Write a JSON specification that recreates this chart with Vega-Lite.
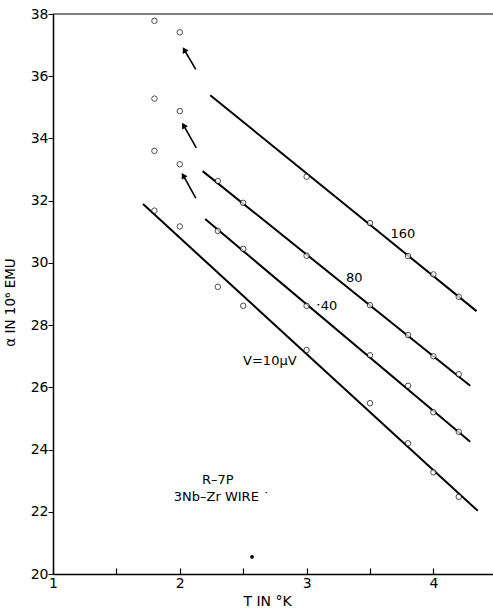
{
  "$schema": "https://vega.github.io/schema/vega-lite/v6.json",
  "width": 440,
  "height": 560,
  "autosize": "none",
  "padding": {"left": 53, "top": 14, "right": 0, "bottom": 37},
  "background": "white",
  "config": {
    "view": {"stroke": null},
    "font": "DejaVu Sans"
  },
  "datasets": {
    "points": [
      {"T": 1.8, "a": 37.78, "V": "160"},
      {"T": 2.0, "a": 37.41, "V": "160"},
      {"T": 3.0, "a": 32.77, "V": "160"},
      {"T": 3.5, "a": 31.28, "V": "160"},
      {"T": 3.8, "a": 30.22, "V": "160"},
      {"T": 4.0, "a": 29.63, "V": "160"},
      {"T": 4.2, "a": 28.91, "V": "160"},
      {"T": 1.8, "a": 35.28, "V": "80"},
      {"T": 2.0, "a": 34.88, "V": "80"},
      {"T": 2.3, "a": 32.63, "V": "80"},
      {"T": 2.5, "a": 31.93, "V": "80"},
      {"T": 3.0, "a": 30.23, "V": "80"},
      {"T": 3.5, "a": 28.64, "V": "80"},
      {"T": 3.8, "a": 27.68, "V": "80"},
      {"T": 4.0, "a": 27.0, "V": "80"},
      {"T": 4.2, "a": 26.42, "V": "80"},
      {"T": 1.8, "a": 33.6, "V": "40"},
      {"T": 2.0, "a": 33.17, "V": "40"},
      {"T": 2.3, "a": 31.03, "V": "40"},
      {"T": 2.5, "a": 30.45, "V": "40"},
      {"T": 3.0, "a": 28.62, "V": "40"},
      {"T": 3.5, "a": 27.03, "V": "40"},
      {"T": 3.8, "a": 26.05, "V": "40"},
      {"T": 4.0, "a": 25.2, "V": "40"},
      {"T": 4.2, "a": 24.57, "V": "40"},
      {"T": 1.8, "a": 31.68, "V": "10"},
      {"T": 2.0, "a": 31.17, "V": "10"},
      {"T": 2.3, "a": 29.23, "V": "10"},
      {"T": 2.5, "a": 28.62, "V": "10"},
      {"T": 3.0, "a": 27.2, "V": "10"},
      {"T": 3.5, "a": 25.49, "V": "10"},
      {"T": 3.8, "a": 24.2, "V": "10"},
      {"T": 4.0, "a": 23.27, "V": "10"},
      {"T": 4.2, "a": 22.48, "V": "10"}
    ],
    "lines": [
      {"T": 2.24, "a": 35.39, "V": "160"},
      {"T": 4.34, "a": 28.45, "V": "160"},
      {"T": 2.18, "a": 32.95, "V": "80"},
      {"T": 4.29, "a": 26.05, "V": "80"},
      {"T": 2.2, "a": 31.41, "V": "40"},
      {"T": 4.29, "a": 24.25, "V": "40"},
      {"T": 1.71, "a": 31.89, "V": "10"},
      {"T": 4.35, "a": 22.03, "V": "10"}
    ],
    "arrows": [
      {"T1": 2.126, "a1": 36.22, "T2": 2.035, "a2": 36.85},
      {"T1": 2.13, "a1": 33.7, "T2": 2.03, "a2": 34.42},
      {"T1": 2.126, "a1": 32.08, "T2": 2.027, "a2": 32.81}
    ],
    "labels": [
      {"T": 3.76, "a": 30.92, "text": "160"},
      {"T": 3.376, "a": 29.5, "text": "80"},
      {"T": 3.16, "a": 28.6, "text": "\u02d140"},
      {"T": 2.71, "a": 26.85, "text": "V=10\u03bcV"},
      {"T": 2.3, "a": 23.02, "text": "R\u20137P"},
      {"T": 2.33, "a": 22.47, "text": "3Nb\u2013Zr WIRE \u02d9"}
    ],
    "dot": [{"T": 2.57, "a": 20.55}]
  },
  "layer": [
    {
      "data": {"values": [{"a": 38}]},
      "mark": {"type": "rule", "color": "black", "strokeWidth": 1.2},
      "encoding": {
        "y": {
          "field": "a", "type": "quantitative",
          "scale": {"domain": [20, 38], "nice": false, "zero": false},
          "axis": {
            "title": "\u03b1 IN 10\u2076 EMU",
            "titleFont": "DejaVu Sans", "titleFontSize": 13.5, "titleFontWeight": "normal",
            "titleColor": "black", "titleX": -36, "titleY": 288,
            "values": [20, 22, 24, 26, 28, 30, 32, 34, 36, 38],
            "grid": false, "domainColor": "black", "domainWidth": 1.5,
            "tickColor": "black", "tickSize": 5, "tickWidth": 1,
            "labelFont": "DejaVu Sans", "labelFontSize": 14, "labelColor": "black",
            "labelPadding": 0, "labelFlush": false
          }
        }
      }
    },
    {
      "data": {"name": "lines"},
      "mark": {"type": "line", "color": "black", "strokeWidth": 2},
      "encoding": {
        "x": {
          "field": "T", "type": "quantitative",
          "scale": {"domain": [1, 4.47], "nice": false, "zero": false},
          "axis": {
            "title": "T IN \u00b0K",
            "titleFont": "DejaVu Sans", "titleFontSize": 14, "titleFontWeight": "normal",
            "titleColor": "black", "titleX": 214, "titleY": 20,
            "values": [1, 1.5, 2, 2.5, 3, 3.5, 4],
            "labelExpr": "datum.value % 1 == 0 ? format(datum.value, 'd') : ''",
            "grid": false, "domainColor": "black", "domainWidth": 1.5,
            "tickColor": "black", "tickSize": -6, "tickWidth": 1.2,
            "labelFont": "DejaVu Sans", "labelFontSize": 14, "labelColor": "black",
            "labelPadding": 8, "labelFlush": false
          }
        },
        "y": {"field": "a", "type": "quantitative"},
        "detail": {"field": "V"}
      }
    },
    {
      "data": {"name": "points"},
      "mark": {"type": "point", "shape": "circle", "color": "black", "filled": false, "fill": "white", "size": 30, "strokeWidth": 1},
      "encoding": {
        "x": {"field": "T", "type": "quantitative"},
        "y": {"field": "a", "type": "quantitative"}
      }
    },
    {
      "data": {"name": "arrows"},
      "mark": {"type": "rule", "color": "black", "strokeWidth": 1.6},
      "encoding": {
        "x": {"field": "T1", "type": "quantitative"},
        "y": {"field": "a1", "type": "quantitative"},
        "x2": {"field": "T2"},
        "y2": {"field": "a2"}
      }
    },
    {
      "data": {"name": "arrows"},
      "mark": {"type": "point", "shape": "triangle-up", "filled": true, "color": "black", "size": 45, "angle": -30, "opacity": 1},
      "encoding": {
        "x": {"field": "T2", "type": "quantitative"},
        "y": {"field": "a2", "type": "quantitative"}
      }
    },
    {
      "data": {"name": "labels"},
      "mark": {"type": "text", "font": "DejaVu Sans", "fontSize": 13, "color": "black", "align": "center", "baseline": "middle"},
      "encoding": {
        "x": {"field": "T", "type": "quantitative"},
        "y": {"field": "a", "type": "quantitative"},
        "text": {"field": "text"}
      }
    },
    {
      "data": {"name": "dot"},
      "mark": {"type": "point", "shape": "circle", "filled": true, "color": "black", "size": 14, "opacity": 1},
      "encoding": {
        "x": {"field": "T", "type": "quantitative"},
        "y": {"field": "a", "type": "quantitative"}
      }
    }
  ]
}
